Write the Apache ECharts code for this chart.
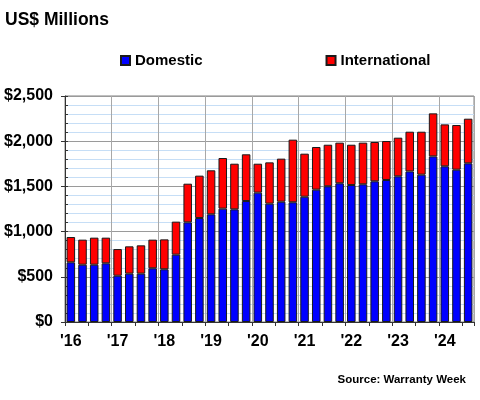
<!DOCTYPE html>
<html>
<head>
<meta charset="utf-8">
<script src="https://cdn.jsdelivr.net/npm/echarts@6/dist/echarts.min.js"></script>
<style>
html,body{margin:0;padding:0;background:#fff;}
#chart{width:480px;height:400px;}
</style>
</head>
<body>
<div id="chart"></div>
<script>
// Quarterly categories, 2016 Q1 .. 2024 Q3
const categories = [
  "Q1 '16","Q2 '16","Q3 '16","Q4 '16",
  "Q1 '17","Q2 '17","Q3 '17","Q4 '17",
  "Q1 '18","Q2 '18","Q3 '18","Q4 '18",
  "Q1 '19","Q2 '19","Q3 '19","Q4 '19",
  "Q1 '20","Q2 '20","Q3 '20","Q4 '20",
  "Q1 '21","Q2 '21","Q3 '21","Q4 '21",
  "Q1 '22","Q2 '22","Q3 '22","Q4 '22",
  "Q1 '23","Q2 '23","Q3 '23","Q4 '23",
  "Q1 '24","Q2 '24","Q3 '24"
];
// Domestic (US$ millions)
const domestic = [660,634,634,649, 512,535,535,594, 583,745,1102,1150, 1191,1254,1246,1338,
  1431,1309,1331,1324, 1386,1464,1501,1534, 1515,1523,1556,1571, 1611,1666,1630,1832, 1722,1685,1755];
// International (US$ millions)
const international = [280,277,299,284, 295,302,313,317, 331,365,428,469, 487,560,505,517,
  320,457,476,693, 476,472,460,450, 446,461,435,431, 428,439,475,476, 464,494,494];
// Y-axis tick labels
const yTicks = ["$0","$500","$1,000","$1,500","$2,000","$2,500"];

const FONT = "'Liberation Sans', Arial, sans-serif";
const chart = echarts.init(document.getElementById('chart'), null, {renderer:'canvas'});
chart.setOption({
  backgroundColor:'#ffffff',
  animation:false,
  title:[
    {text:'US$ Millions', left:0, top:6,
     textStyle:{fontFamily:FONT, fontSize:17.5, fontWeight:'bold', color:'#000'}},
    {text:'Source: Warranty Week', right:9, top:369,
     textStyle:{fontFamily:FONT, fontSize:11.5, fontWeight:'bold', color:'#000'}}
  ],
  legend:{
    left:120, top:53, padding:0, itemWidth:9, itemHeight:9, itemGap:123, icon:'rect',
    textStyle:{fontFamily:FONT, fontSize:15, fontWeight:'bold', color:'#000'},
    data:['Domestic','International']
  },
  grid:{left:65, top:96, width:409, height:226, show:true, borderColor:'#808080', borderWidth:1, containLabel:false},
  xAxis:{
    type:'category', data:categories, boundaryGap:true,
    axisLine:{lineStyle:{color:'#333', width:1}},
    axisTick:{show:true, interval:1, length:4, lineStyle:{color:'#333'}},
    axisLabel:{interval:3, margin:12, fontFamily:FONT, fontSize:16, fontWeight:'bold', color:'#000',
      formatter:function(v){ return v.split(' ')[1]; }},
    splitLine:{show:true, interval:3, lineStyle:{color:'#a8a8a8', width:1}}
  },
  yAxis:[
    {type:'value', min:0, max:2500, interval:500, position:'left',
     axisLine:{show:true, lineStyle:{color:'#333'}},
     axisTick:{show:true, length:4, lineStyle:{color:'#333'}},
     axisLabel:{margin:12, fontFamily:FONT, fontSize:16, fontWeight:'bold', color:'#000',
       formatter:function(v){ return yTicks[Math.round(v/500)]; }},
     splitLine:{show:true, lineStyle:{color:'#9a9a9a'}},
     minorTick:{show:false},
     minorSplitLine:{show:true, lineStyle:{color:'#c6def6'}},
     splitNumber:5
    },
    {type:'value', min:0, max:2500, interval:100, position:'left', offset:0,
     axisLine:{show:false},
     axisTick:{show:true, inside:true, length:3, lineStyle:{color:'#333'}},
     axisLabel:{show:false}, splitLine:{show:false}}
  ],
  series:[
    {name:'Domestic', type:'bar', stack:'total', data:domestic, barWidth:'73%',
     itemStyle:{color:'#0000ff', borderColor:'#1a1a1a', borderWidth:1}},
    {name:'International', type:'bar', stack:'total', data:international, barWidth:'73%',
     itemStyle:{color:'#ff0000', borderColor:'#1a1a1a', borderWidth:1}}
  ]
});
</script>
</body>
</html>
